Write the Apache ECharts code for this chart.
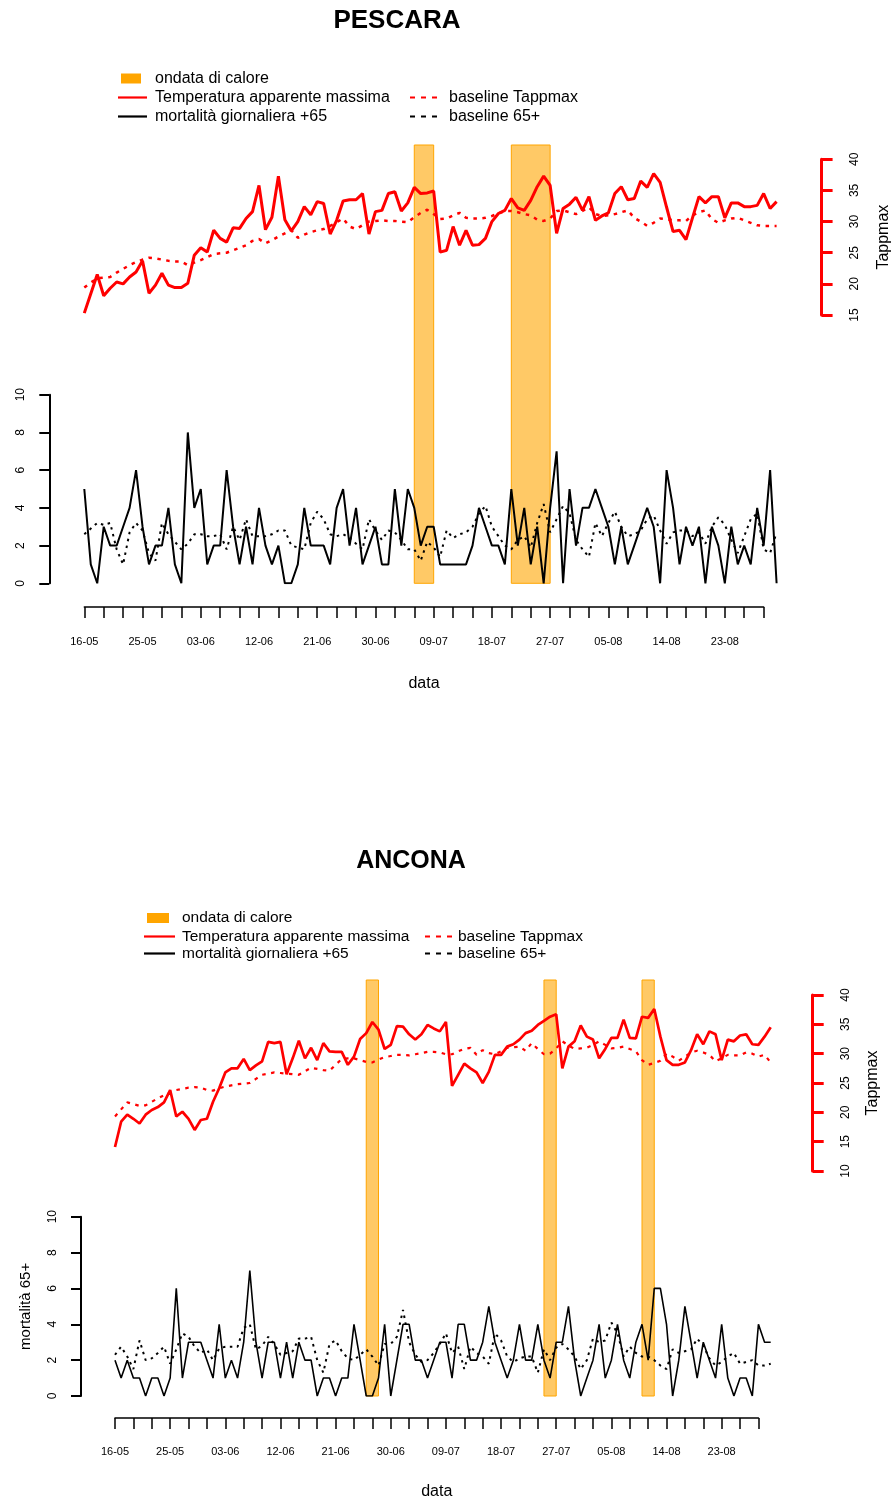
<!DOCTYPE html>
<html>
<head>
<meta charset="utf-8">
<script src="https://cdn.jsdelivr.net/npm/echarts@6/dist/echarts.min.js"></script>
<style>
html, body { margin: 0; padding: 0; background: #fff; }
#main { width: 893px; height: 1501px; }
</style>
</head>
<body>
<div id="main"></div>
<script>
// Date tick labels (one every 9 days, starting 16 May)
const dateTicks = ['16-05', '25-05', '03-06', '12-06', '21-06', '30-06', '09-07', '18-07', '27-07', '05-08', '14-08', '23-08'];

// Heat-wave periods, as [first day, last day] counted from 16 May
const heatPescara = [[51, 54], [66, 72]];
const heatAncona = [[41, 43], [70, 72], [86, 88]];

// PESCARA: maximum apparent temperature and its baseline
const tappPescara = [
  15.3, 18.4, 21.5, 18.1, 19.3, 20.3, 20.0, 21.1, 21.9, 23.7,
  18.5, 19.8, 21.7, 19.8, 19.4, 19.4, 20.1, 24.6, 25.8, 25.1,
  28.6, 27.3, 26.7, 29.0, 28.9, 30.5, 31.6, 35.8, 28.7, 30.7,
  37.3, 30.3, 28.5, 30.0, 32.4, 31.1, 33.2, 32.9, 28.0, 30.2,
  33.3, 33.5, 33.5, 34.5, 28.0, 31.6, 31.8, 34.5, 34.8, 31.7,
  33.0, 35.5, 34.5, 34.6, 34.9, 25.1, 25.4, 29.2, 26.2, 28.6,
  26.2, 26.3, 27.3, 30.0, 31.3, 31.8, 33.7, 32.2, 31.8, 33.4,
  35.6, 37.3, 35.8, 28.1, 32.1, 32.8, 33.9, 31.8, 34.0, 30.2,
  30.9, 31.4, 34.5, 35.6, 33.5, 33.7, 36.5, 35.5, 37.7, 36.3,
  32.3, 28.4, 28.6, 27.1, 30.6, 34.0, 33.0, 34.0, 34.0, 30.6,
  33.0, 33.0, 32.4, 32.4, 32.6, 34.5, 32.1, 33.2
];
const tappBasePescara = [
  19.4, 20.2, 20.9, 21.0, 21.1, 21.8, 22.4, 23.0, 23.5, 23.9,
  24.2, 24.1, 23.9, 23.7, 23.6, 23.6, 23.0, 23.4, 23.8, 24.3,
  24.8, 24.9, 25.0, 25.4, 25.8, 26.2, 26.9, 27.2, 26.5, 27.0,
  27.6, 28.1, 28.6, 27.4, 27.9, 28.3, 28.6, 28.8, 29.3, 29.9,
  30.5, 29.2, 28.8, 29.4, 30.0, 30.1, 30.2, 30.1, 30.1, 30.0,
  29.9, 30.7, 31.4, 31.9, 31.2, 30.4, 30.5, 31.0, 31.4, 30.6,
  30.5, 30.5, 30.6, 30.9, 31.3, 31.7, 31.7, 31.5, 31.2, 31.0,
  30.3, 30.1, 30.5, 31.7, 31.8, 31.5, 31.2, 31.7, 32.3, 31.2,
  30.9, 31.0, 31.2, 31.5, 31.8, 30.6, 30.0, 29.3, 29.8, 30.5,
  30.4, 30.2, 30.2, 30.1, 31.0, 31.5, 31.8, 30.4, 29.8, 30.2,
  30.5, 30.6, 30.2, 29.8, 29.4, 29.3, 29.3, 29.3
];

// PESCARA: daily deaths 65+ and baseline
const mortPescara = [
  5, 1, 0, 3, 2, 2, 3, 4, 6, 3,
  1, 2, 2, 4, 1, 0, 8, 4, 5, 1,
  2, 2, 6, 3, 1, 3, 1, 4, 2, 1,
  2, 0, 0, 1, 4, 2, 2, 2, 1, 4,
  5, 2, 4, 1, 2, 3, 1, 1, 5, 2,
  5, 4, 2, 3, 3, 1, 1, 1, 1, 1,
  2, 4, 3, 2, 2, 1, 5, 2, 4, 1,
  3, 0, 4, 7, 0, 5, 2, 4, 4, 5,
  4, 3, 1, 3, 1, 2, 3, 4, 3, 0,
  6, 4, 1, 3, 2, 3, 0, 3, 2, 0,
  3, 1, 2, 1, 4, 2, 6, 0
];
const mortBasePescara = [
  2.6, 2.9, 3.2, 3.1, 3.2, 1.8, 1.0, 2.7, 3.2, 2.8,
  1.6, 1.2, 3.2, 2.6, 2.2, 1.8, 2.1, 2.6, 2.6, 2.5,
  2.5, 2.6, 1.8, 3.0, 2.3, 3.4, 2.5, 2.5, 2.5, 2.6,
  2.8, 2.8, 2.0, 1.9, 1.8, 3.2, 3.8, 3.4, 2.6, 2.5,
  2.6, 2.4, 2.1, 1.8, 3.4, 2.8, 2.3, 2.8, 2.7, 2.3,
  1.8, 1.8, 1.2, 2.2, 1.9, 1.4, 2.8, 2.4, 2.6, 2.7,
  3.0, 3.7, 4.1, 3.0, 2.5, 2.0, 1.8, 2.3, 2.5, 1.9,
  3.2, 4.2, 2.7, 3.4, 4.1, 3.7, 2.3, 1.8, 1.4, 3.2,
  2.5, 3.2, 3.8, 3.0, 2.5, 2.6, 2.8, 3.4, 3.6, 2.8,
  2.1, 2.7, 2.8, 2.8, 2.5, 2.7, 2.1, 3.0, 3.5, 3.1,
  2.3, 1.6, 2.5, 3.4, 3.7, 1.8, 1.6, 2.7
];

// ANCONA: maximum apparent temperature and its baseline
const tappAncona = [
  14.1, 18.4, 19.6, 18.9, 18.1, 19.6, 20.4, 20.9, 21.7, 23.8,
  19.3, 20.1, 18.9, 17.0, 18.7, 18.9, 21.8, 24.1, 26.8, 27.5,
  27.5, 29.1, 27.2, 28.0, 28.7, 32.0, 31.8, 32.0, 26.5, 29.2,
  32.2, 29.2, 31.0, 28.9, 31.8, 30.4, 30.3, 30.3, 28.1, 29.5,
  32.5, 33.5, 35.4, 34.1, 30.8, 31.5, 34.7, 34.6, 33.3, 32.4,
  33.3, 34.9, 34.3, 33.8, 35.4, 24.5, 26.4, 28.3, 27.5, 26.8,
  25.0, 26.9, 29.8, 29.8, 31.2, 31.6, 32.4, 33.5, 33.9, 34.9,
  35.6, 36.3, 36.7, 27.5, 31.2, 32.1, 34.8, 32.9, 32.4, 29.2,
  30.8, 32.7, 32.7, 35.8, 32.7, 32.6, 36.3, 36.1, 37.6, 32.9,
  28.9, 28.1, 28.1, 28.5, 30.6, 33.3, 31.6, 33.8, 33.3, 28.9,
  32.4, 32.1, 33.1, 33.3, 31.6, 31.5, 32.9, 34.5
];
const tappBaseAncona = [
  19.3, 20.5, 21.7, 21.4, 21.1, 21.2, 21.8, 22.4, 22.9, 23.4,
  23.8, 24.0, 24.2, 24.3, 24.2, 23.8, 23.7, 24.1, 24.4, 24.6,
  24.8, 24.9, 25.0, 25.7, 26.4, 26.6, 26.8, 26.7, 26.6, 26.5,
  26.4, 27.0, 27.6, 27.4, 27.2, 27.1, 28.1, 29.1, 29.2, 29.2,
  28.9, 28.6, 28.5, 29.0, 29.4, 29.6, 29.8, 29.8, 29.7, 29.9,
  30.1, 30.3, 30.3, 30.2, 29.9, 29.9, 30.4, 30.8, 31.0, 29.8,
  30.6, 30.1, 29.9, 30.4, 31.0, 31.1, 31.2, 30.5, 31.8, 30.8,
  29.9, 30.0, 30.9, 32.1, 31.4, 30.8, 30.9, 31.0, 31.5, 32.1,
  31.5, 30.9, 31.0, 31.2, 30.8, 30.4, 28.9, 28.1, 28.4, 28.8,
  30.0, 29.5, 28.8, 29.5, 30.2, 30.5, 30.2, 29.8, 28.7, 29.2,
  29.8, 29.7, 29.7, 30.2, 30.0, 29.5, 29.8, 28.5
];

// ANCONA: daily deaths 65+ and baseline
const mortAncona = [
  2, 1, 2, 1, 1, 0, 1, 1, 0, 1,
  6, 1, 3, 3, 3, 2, 1, 4, 1, 2,
  1, 3, 7, 3, 1, 3, 3, 1, 3, 1,
  3, 2, 2, 0, 1, 1, 0, 1, 1, 4,
  2, 0, 0, 1, 4, 0, 2, 4, 4, 2,
  2, 1, 2, 3, 3, 1, 4, 4, 2, 2,
  3, 5, 3, 2, 1, 2, 4, 2, 2, 4,
  2, 1, 3, 3, 5, 2, 0, 1, 2, 4,
  1, 2, 4, 2, 1, 3, 4, 2, 6, 6,
  4, 0, 2, 5, 3, 1, 3, 2, 1, 4,
  1, 0, 1, 1, 0, 4, 3, 3
];
const mortBaseAncona = [
  2.3, 2.75, 2.2, 1.5, 3.1, 2.0, 2.1, 2.4, 2.75, 1.8,
  2.6, 3.5, 3.3, 2.75, 2.4, 2.6, 2.0, 2.65, 2.75, 2.75,
  2.75, 3.8, 4.0, 2.6, 2.8, 3.3, 2.9, 2.3, 2.4, 2.5,
  3.2, 3.2, 3.3, 2.0, 1.3, 2.9, 3.1, 2.5, 2.1, 2.0,
  2.3, 2.6, 2.2, 1.7, 2.9, 2.9, 3.3, 4.8, 3.0, 2.3,
  1.9, 2.0, 2.4, 2.9, 3.5, 2.4, 2.75, 1.5, 2.75, 2.4,
  2.2, 1.8, 3.5, 3.1, 2.2, 1.9, 2.1, 2.2, 2.2, 1.3,
  2.6, 2.0, 2.7, 2.9, 2.6, 2.2, 1.5, 2.0, 3.2, 3.0,
  3.1, 4.1, 3.5, 2.2, 2.75, 2.4, 2.2, 2.2, 2.0, 1.7,
  1.5, 2.6, 2.4, 2.5, 2.6, 3.2, 2.8, 2.1, 1.7, 1.9,
  2.2, 2.4, 1.8, 1.9, 2.0, 1.7, 1.7, 1.8
];

const FONT = '"Liberation Sans", Arial, Helvetica, sans-serif';
const RED = '#ff0000';
const ORANGE = '#ffa500';

const option = {
  animation: false,
  backgroundColor: '#ffffff',
  grid: [], xAxis: [], yAxis: [], series: [], graphic: []
};

function pairs(arr) { return arr.map((v, i) => [i, v]); }

// One city block: temperature panel on top (right axis), deaths below (left axis),
// heat-wave bands spanning both, and a shared date axis underneath.
function addPanel(p) {
  const g = option.grid.length;
  const nb = { containLabel: false, outerBoundsMode: 'none' };
  option.grid.push(
    Object.assign({ left: p.x0, width: p.w, top: p.tTop, height: p.tBot - p.tTop }, nb),
    Object.assign({ left: p.x0, width: p.w, top: p.mTop, height: p.mBot - p.mTop }, nb),
    Object.assign({ left: p.x0, width: p.w, top: p.bTop, height: p.mBot - p.bTop }, nb),
    Object.assign({ left: p.x0, width: p.aw, top: p.axisY - 10, height: 10 }, nb)
  );
  for (let k = 0; k < 3; k++) {
    option.xAxis.push({ gridIndex: g + k, type: 'value', min: 0, max: 107, show: false });
  }
  option.xAxis.push({
    gridIndex: g + 3, type: 'value', position: 'bottom', min: 0, max: 105, interval: 3,
    axisLine: { show: true, onZero: false, lineStyle: { color: '#000', width: 1.5 } },
    axisTick: { show: true, length: 11, lineStyle: { color: '#000', width: 1.5 } },
    axisLabel: {
      margin: p.xLblMargin, fontSize: 11, color: '#000', fontFamily: FONT,
      showMinLabel: true, showMaxLabel: true,
      formatter: v => { const n = Math.round(v); return n % 9 === 0 ? (dateTicks[n / 9] || '') : ''; }
    },
    splitLine: { show: false },
    name: 'data', nameLocation: 'middle', nameGap: p.xNameGap,
    nameTextStyle: { fontSize: 16, color: '#000', fontFamily: FONT }
  });

  option.yAxis.push({
    gridIndex: g, type: 'value', position: 'right', offset: p.tOff,
    min: p.tMin, max: 40, interval: 5,
    axisLine: { show: true, onZero: false, lineStyle: { color: RED, width: 3 } },
    axisTick: { show: true, length: 11, lineStyle: { color: RED, width: 3 } },
    axisLabel: { rotate: 90, margin: p.tLblMargin, fontSize: 12, color: '#000', fontFamily: FONT },
    splitLine: { show: false },
    name: 'Tappmax', nameLocation: 'middle', nameRotate: 90, nameGap: p.tNameGap,
    nameTextStyle: { fontSize: 16, color: '#000', fontFamily: FONT }
  });
  const mortAxis = {
    gridIndex: g + 1, type: 'value', position: 'left', offset: p.mOff,
    min: 0, max: 10, interval: 2,
    axisLine: { show: true, onZero: false, lineStyle: { color: '#000', width: 2 } },
    axisTick: { show: true, length: 10, lineStyle: { color: '#000', width: 2 } },
    axisLabel: { rotate: 90, margin: p.mLblMargin, fontSize: 12, color: '#000', fontFamily: FONT },
    splitLine: { show: false }
  };
  if (p.mName) {
    Object.assign(mortAxis, {
      name: p.mName, nameLocation: 'middle', nameRotate: 90, nameGap: p.mNameGap,
      nameTextStyle: { fontSize: 15, color: '#000', fontFamily: FONT }
    });
  }
  option.yAxis.push(mortAxis);
  option.yAxis.push({ gridIndex: g + 2, type: 'value', min: 0, max: 1, show: false });
  option.yAxis.push({ gridIndex: g + 3, type: 'value', min: 0, max: 1, show: false });

  // heat-wave bands
  option.series.push({
    type: 'custom', xAxisIndex: g + 2, yAxisIndex: g + 2, z: 1, silent: true,
    data: p.heat, encode: { x: [0, 1] },
    renderItem: (params, api) => {
      const a = api.coord([api.value(0), 1]);
      const b = api.coord([api.value(1), 0]);
      return {
        type: 'rect',
        shape: { x: a[0], y: a[1], width: b[0] - a[0], height: b[1] - a[1] },
        style: { fill: 'rgba(255,165,0,0.6)', stroke: ORANGE, lineWidth: 1 }
      };
    }
  });
  option.series.push(
    { type: 'line', xAxisIndex: g, yAxisIndex: g, data: pairs(p.tBase), symbol: 'none', z: 3,
      lineStyle: { color: RED, width: p.tw - 0.5, type: [3.5, 5.5] } },
    { type: 'line', xAxisIndex: g, yAxisIndex: g, data: pairs(p.temp), symbol: 'none', z: 4,
      lineStyle: { color: RED, width: p.tw } },
    { type: 'line', xAxisIndex: g + 1, yAxisIndex: g + 1, data: pairs(p.mBase), symbol: 'none', z: 3,
      lineStyle: { color: '#000', width: 2, type: [2.5, 4.5] } },
    { type: 'line', xAxisIndex: g + 1, yAxisIndex: g + 1, data: pairs(p.mort), symbol: 'none', z: 4,
      lineStyle: { color: '#000', width: p.mw } }
  );

  // title and legend
  const L = p.leg;
  const txt = (x, y, s, size, bold) => ({
    type: 'text', x: x, y: y, z: 10,
    style: { text: s, fill: '#000', font: (bold ? 'bold ' : '') + size + 'px ' + FONT, align: 'left', verticalAlign: 'middle' }
  });
  const seg = (x1, x2, y, color, dash) => ({
    type: 'line', z: 10, shape: { x1: x1, y1: y, x2: x2, y2: y },
    style: { stroke: color, lineWidth: 2.2, lineDash: dash || null }
  });
  const title = txt(p.titleX, p.titleY, p.title, p.titleSize, true);
  title.style.align = 'center';
  option.graphic.push(
    title,
    { type: 'rect', z: 10, shape: { x: L.x1, y: L.rows[0] - 5, width: L.x2 - L.x1 - 6, height: 10 }, style: { fill: ORANGE } },
    txt(L.tx, L.rows[0], 'ondata di calore', L.size),
    seg(L.x1 - 3, L.x2, L.rows[1], RED),
    txt(L.tx, L.rows[1], 'Temperatura apparente massima', L.size),
    seg(L.dx1, L.dx2, L.rows[1], RED, [5, 6]),
    txt(L.dtx, L.rows[1], 'baseline Tappmax', L.size),
    seg(L.x1 - 3, L.x2, L.rows[2], '#000'),
    txt(L.tx, L.rows[2], 'mortalità giornaliera +65', L.size),
    seg(L.dx1, L.dx2, L.rows[2], '#000', [5, 6]),
    txt(L.dtx, L.rows[2], 'baseline 65+', L.size)
  );
}

addPanel({
  title: 'PESCARA', titleX: 397, titleY: 21, titleSize: 26,
  x0: 84.3, w: 107 * 6.47, aw: 105 * 6.47,
  tTop: 159.3, tBot: 315, tMin: 15, tOff: 45, tLblMargin: 27, tNameGap: 54,
  mTop: 394.7, mBot: 583.3, mOff: 35, mLblMargin: 23,
  bTop: 145, axisY: 607, xLblMargin: 29, xNameGap: 69,
  tw: 3, mw: 2,
  temp: tappPescara, tBase: tappBasePescara, mort: mortPescara, mBase: mortBasePescara,
  heat: heatPescara,
  leg: { x1: 121, x2: 147, tx: 155, dx1: 410, dx2: 443, dtx: 449, rows: [78.5, 97.5, 116.5], size: 16 }
});

addPanel({
  title: 'ANCONA', titleX: 411, titleY: 861, titleSize: 25,
  x0: 115, w: 107 * 6.128, aw: 105 * 6.128,
  tTop: 995, tBot: 1171, tMin: 10, tOff: 42, tLblMargin: 27, tNameGap: 52,
  mTop: 1216.7, mBot: 1396, mOff: 34, mLblMargin: 22, mName: 'mortalità 65+', mNameGap: 48,
  bTop: 980, axisY: 1418, xLblMargin: 28, xNameGap: 66,
  tw: 2.7, mw: 1.6,
  temp: tappAncona, tBase: tappBaseAncona, mort: mortAncona, mBase: mortBaseAncona,
  heat: heatAncona,
  leg: { x1: 147, x2: 175, tx: 182, dx1: 425, dx2: 452, dtx: 458, rows: [918, 936.5, 953.5], size: 15.5 }
});

const chart = echarts.init(document.getElementById('main'), null, { renderer: 'canvas' });
chart.setOption(option);
</script>
</body>
</html>
